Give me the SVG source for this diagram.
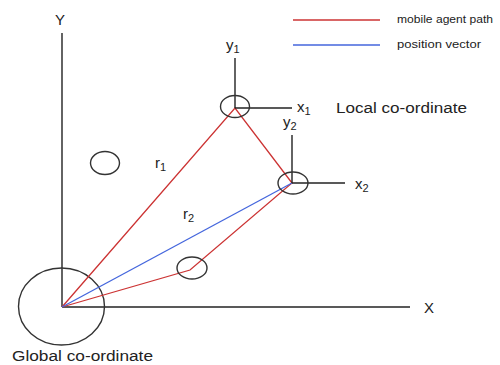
<svg xmlns="http://www.w3.org/2000/svg" width="500" height="365" viewBox="0 0 500 365">
<style>
text{font-family:"Liberation Sans",Arial,sans-serif;fill:#222}
.ax{stroke:#222;stroke-width:1.4;fill:none}
.c{stroke:#333;stroke-width:1.4;fill:none}
.red{stroke:#cc3333;stroke-width:1.3;fill:none}
.blue{stroke:#4466dd;stroke-width:1.3;fill:none}
.lbl{font-size:15px}
.sub{font-size:11px}
.leg{font-size:10px}
.big{font-size:14px}
</style>
<rect width="500" height="365" fill="#fff"/>
<g id="legend">
<line class="red" x1="293" y1="20" x2="380" y2="20"/>
<text class="leg" x="397" y="23" textLength="96" lengthAdjust="spacingAndGlyphs">mobile agent path</text>
<line class="blue" x1="293" y1="45" x2="380" y2="45"/>
<text class="leg" x="397" y="48" textLength="84" lengthAdjust="spacingAndGlyphs">position vector</text>
</g>
<g id="global">
<line class="ax" x1="62" y1="33" x2="62" y2="307"/>
<line class="ax" x1="62" y1="307" x2="410" y2="307"/>
<ellipse class="c" cx="61.5" cy="306.5" rx="43" ry="38.5"/>
<text class="lbl" x="55" y="25">Y</text>
<text class="lbl" x="424" y="313">X</text>
<text class="big" x="12" y="361" textLength="141" lengthAdjust="spacingAndGlyphs">Global co-ordinate</text>
</g>
<g id="connectors">
<polyline class="red" points="62,307 235,108 292,183 190,270 62,307"/>
<line class="blue" x1="62" y1="307" x2="292" y2="183"/>
</g>
<g id="local1">
<line class="ax" x1="235" y1="58" x2="235" y2="108"/>
<line class="ax" x1="235" y1="108" x2="292" y2="108"/>
<ellipse class="c" cx="235" cy="106.5" rx="14.5" ry="11"/>
<text class="lbl" x="226" y="50">y<tspan class="sub" dy="3">1</tspan></text>
<text class="lbl" x="297" y="112">x<tspan class="sub" dy="3">1</tspan></text>
<text class="big" x="336" y="113" textLength="131" lengthAdjust="spacingAndGlyphs">Local co-ordinate</text>
</g>
<g id="local2">
<line class="ax" x1="292" y1="135" x2="292" y2="183"/>
<line class="ax" x1="292" y1="183" x2="345" y2="183"/>
<ellipse class="c" cx="293" cy="183" rx="15" ry="11"/>
<text class="lbl" x="283" y="127">y<tspan class="sub" dy="3">2</tspan></text>
<text class="lbl" x="355" y="189">x<tspan class="sub" dy="3">2</tspan></text>
</g>
<g id="point3">
<ellipse class="c" cx="192" cy="268" rx="15" ry="11"/>
</g>
<g id="point4">
<ellipse class="c" cx="105" cy="163" rx="14.5" ry="11.5"/>
</g>
<g id="labels">
<text class="lbl" x="155" y="168">r<tspan class="sub" dy="3">1</tspan></text>
<text class="lbl" x="183" y="219">r<tspan class="sub" dy="3">2</tspan></text>
</g>
</svg>
